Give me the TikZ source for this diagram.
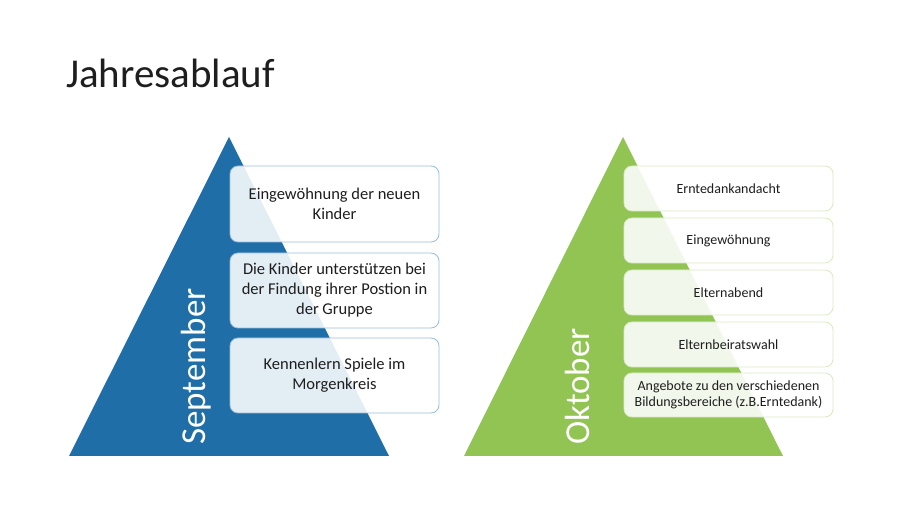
\documentclass[tikz,border=0pt]{standalone}
\usepackage{fontspec}
\setmainfont{Carlito}
\usetikzlibrary{positioning}
\definecolor{sept}{RGB}{31,110,168}
\definecolor{okt}{RGB}{146,196,84}
\definecolor{ink}{RGB}{30,30,30}

\begin{document}
\begin{tikzpicture}[
  x=1pt, y=1pt,
  itembox/.style={draw, rounded corners=8pt, align=center, fill=white,
    fill opacity=0.88, text opacity=1, text=ink, line width=0.8pt,
    minimum width=209pt, inner sep=2pt},
  month/.style={rotate=90, anchor=west, inner sep=0pt, text=white,
    font=\fontsize{35}{40}\selectfont}
]

\useasboundingbox (0,0) rectangle (900,506);

\node[anchor=base west, inner sep=0pt, text=ink,
      font=\fontsize{41}{48}\selectfont] (title) at (66,418) {Jahresablauf};

% September
\fill[sept] (229,369) -- (69,50) -- (389,50) -- cycle;
\node[month] (sep) at (196,61) {September};

\node[itembox, draw=sept!45, minimum height=76pt,
      font=\fontsize{16.5}{20}\selectfont] (s1) at (334.5,302)
  {Eingewöhnung der neuen\\Kinder};
\node[itembox, draw=sept!45, minimum height=75pt,
      font=\fontsize{16.5}{20}\selectfont] (s2) at (334.5,215.5)
  {Die Kinder unterstützen bei\\der Findung ihrer Postion in\\der Gruppe};
\node[itembox, draw=sept!45, minimum height=75pt,
      font=\fontsize{16.5}{20}\selectfont] (s3) at (334.5,130.5)
  {Kennenlern Spiele im\\Morgenkreis};

% Oktober
\fill[okt] (623,369) -- (464,50) -- (783,50) -- cycle;
\node[month] (okt) at (577,61) {Oktober};

\node[itembox, draw=okt!35, minimum height=45pt,
      font=\fontsize{14}{16}\selectfont] (o1) at (728.5,317.5)
  {Erntedankandacht};
\node[itembox, draw=okt!35, minimum height=45pt,
      font=\fontsize{14}{16}\selectfont] (o2) at (728.5,265.5)
  {Eingewöhnung};
\node[itembox, draw=okt!35, minimum height=45pt,
      font=\fontsize{14}{16}\selectfont] (o3) at (728.5,213.5)
  {Elternabend};
\node[itembox, draw=okt!35, minimum height=45pt,
      font=\fontsize{14}{16}\selectfont] (o4) at (728.5,161.5)
  {Elternbeiratswahl};
\node[itembox, draw=okt!35, minimum height=44pt,
      font=\fontsize{14}{16}\selectfont] (o5) at (728.5,111)
  {Angebote zu den verschiedenen\\Bildungsbereiche (z.B.Erntedank)};

\end{tikzpicture}
\end{document}
